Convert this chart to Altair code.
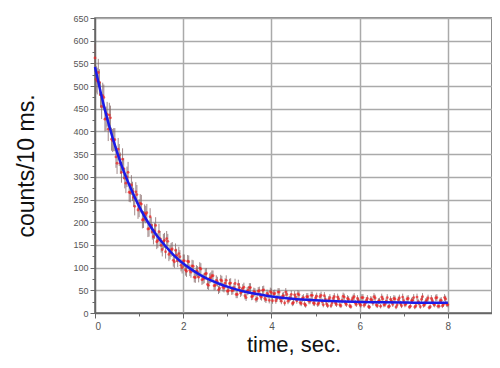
import altair as alt
import pandas as pd

# measured counts per 10 ms (two interleaved sample sets, 0.05 s apart each)
times_a = [round(i * 0.05, 3) for i in range(161)]
counts_a = [
    562, 511, 508, 455, 475, 428, 405, 430, 380, 382, 330, 348, 310, 318, 286, 310, 265, 268, 235, 261, 231,
    240, 206, 217, 185, 212, 179, 181, 157, 179, 149, 158, 135, 158, 133, 141, 113, 127, 131, 105, 115,
    95, 114, 94, 104, 79, 93, 79, 97, 75, 86, 63, 76, 82, 60, 72, 51, 73, 57, 66, 48,
    65, 49, 56, 41, 63, 44, 54, 38, 48, 56, 36, 47, 30, 48, 37, 50, 32, 43, 28, 45,
    42, 27, 46, 31, 37, 22, 41, 30, 41, 23, 35, 42, 23, 32, 20, 36, 26, 39, 22, 33,
    19, 36, 25, 38, 20, 30, 16, 32, 22, 35, 18, 28, 35, 19, 30, 14, 33, 22, 32, 20,
    34, 17, 28, 14, 30, 22, 33, 16, 27, 35, 18, 26, 14, 30, 19, 31, 18, 33, 16, 27,
    20, 32, 15, 28, 13, 35, 21, 30, 17, 26, 33, 14, 27, 18, 34, 15, 28, 19, 31, 18,
]
times_b = [round(0.025 + i * 0.05, 3) for i in range(160)]
counts_b = [
    515, 530, 481, 479, 427, 438, 436, 383, 382, 344, 361, 330, 339, 297, 300, 266, 282, 255, 267, 227,
    242, 205, 220, 221, 186, 193, 168, 193, 160, 164, 140, 160, 164, 129, 139, 116, 138, 115, 124, 100,
    115, 92, 113, 90, 103, 78, 91, 99, 73, 77, 87, 61, 78, 82, 61, 69, 54, 71, 55, 72,
    49, 66, 50, 65, 41, 56, 47, 57, 34, 50, 56, 37, 46, 32, 49, 35, 51, 29, 40, 47,
    27, 43, 32, 46, 26, 38, 46, 26, 34, 21, 40, 27, 40, 21, 34, 17, 36, 26, 39, 21,
    37, 22, 39, 18, 30, 16, 34, 22, 36, 19, 31, 16, 37, 22, 32, 16, 29, 36, 19, 27,
    17, 34, 21, 32, 13, 29, 36, 18, 26, 15, 31, 19, 34, 15, 26, 32, 13, 29, 21, 35,
    18, 31, 13, 27, 34, 16, 25, 14, 36, 19, 29, 12, 32, 20, 33, 15, 27, 16, 34, 19,
]

# exponential fit curve values
fit_t = [0.0, 0.2, 0.4, 0.6, 0.8, 1.0, 1.2, 1.4, 1.6, 1.8, 2.0, 2.2, 2.4, 2.6, 2.8, 3.0,
         3.2, 3.4, 3.6, 3.8, 4.0, 4.4, 4.8, 5.2, 5.6, 6.0, 6.5, 7.0, 7.5, 8.0]
fit_y = [542, 457, 386, 326, 277, 235, 200, 171, 147, 126, 109, 95, 83, 73, 65, 58,
         52, 47, 43, 39.5, 36.6, 32.2, 29.2, 27.0, 25.5, 24.5, 23.6, 23.0, 22.6, 22.4]

data = pd.DataFrame({"t": times_a + times_b, "c": counts_a + counts_b})
fit = pd.DataFrame({"t": fit_t, "y": fit_y})

FONT = "Liberation Sans"

xscale = alt.Scale(domain=[0, 9], nice=False)
yscale = alt.Scale(domain=[0, 650], nice=False)

xvals = list(range(0, 9))
yvals = list(range(0, 651, 25))

xaxis = alt.Axis(
    title="time, sec.",
    values=xvals,
    tickCount=len(xvals),
    labelExpr="datum.value % 2 == 0 ? datum.label : ''",
    labelOverlap=False,
    gridOpacity=alt.condition("datum.value % 2 == 0 && datum.value > 0", alt.value(1), alt.value(0)),
    tickSize=alt.condition("datum.value % 2 == 0", alt.value(5), alt.value(3)),
    labelFontSize=10,
    labelPadding=3,
    titleFontSize=22,
    titleBaseline="alphabetic",
    titleY=38,
    titleFontWeight="normal",
)
yaxis = alt.Axis(
    title="counts/10 ms.",
    values=yvals,
    tickCount=len(yvals),
    labelExpr="datum.value % 50 == 0 ? datum.label : ''",
    labelOverlap=False,
    gridOpacity=alt.condition("datum.value % 50 == 0 && datum.value > 0", alt.value(1), alt.value(0)),
    tickSize=alt.condition("datum.value % 50 == 0", alt.value(5), alt.value(3)),
    labelFontSize=9,
    labelPadding=2,
    titleFontSize=23,
    titlePadding=34,
    titleFontWeight="normal",
)

base = alt.Chart(data).transform_calculate(
    lo="datum.c - 1.3*sqrt(datum.c)", hi="datum.c + 1.3*sqrt(datum.c)"
)

bars = base.mark_rule(color="#806262", strokeWidth=1, opacity=0.75).encode(
    x=alt.X("t:Q", scale=xscale, axis=xaxis),
    y=alt.Y("lo:Q", scale=yscale, axis=yaxis),
    y2="hi:Q",
)
pts = base.mark_circle(color="#f02020", size=8, opacity=0.7).encode(
    x=alt.X("t:Q", scale=xscale),
    y=alt.Y("c:Q", scale=yscale),
)
line = alt.Chart(fit).mark_line(color="#1a1ae8", strokeWidth=2.5, interpolate="monotone").encode(
    x=alt.X("t:Q", scale=xscale),
    y=alt.Y("y:Q", scale=yscale),
)

chart = alt.layer(bars, pts, line).properties(
    width=397,
    height=295,
    autosize=alt.AutoSizeParams(type="none"),
    padding={"left": 87, "top": 10, "right": 0, "bottom": 43},
).configure_view(
    stroke="#666666", strokeWidth=1.5
).configure_axis(
    labelFont=FONT, titleFont=FONT, labelColor="#555555", titleColor="#111111",
    domainColor="#666666", tickColor="#666666", gridColor="#aaaaaa", gridWidth=1.5,
    domainWidth=1.5,
)

chart.save("out.html", embed_options={"renderer": "svg", "actions": False})
